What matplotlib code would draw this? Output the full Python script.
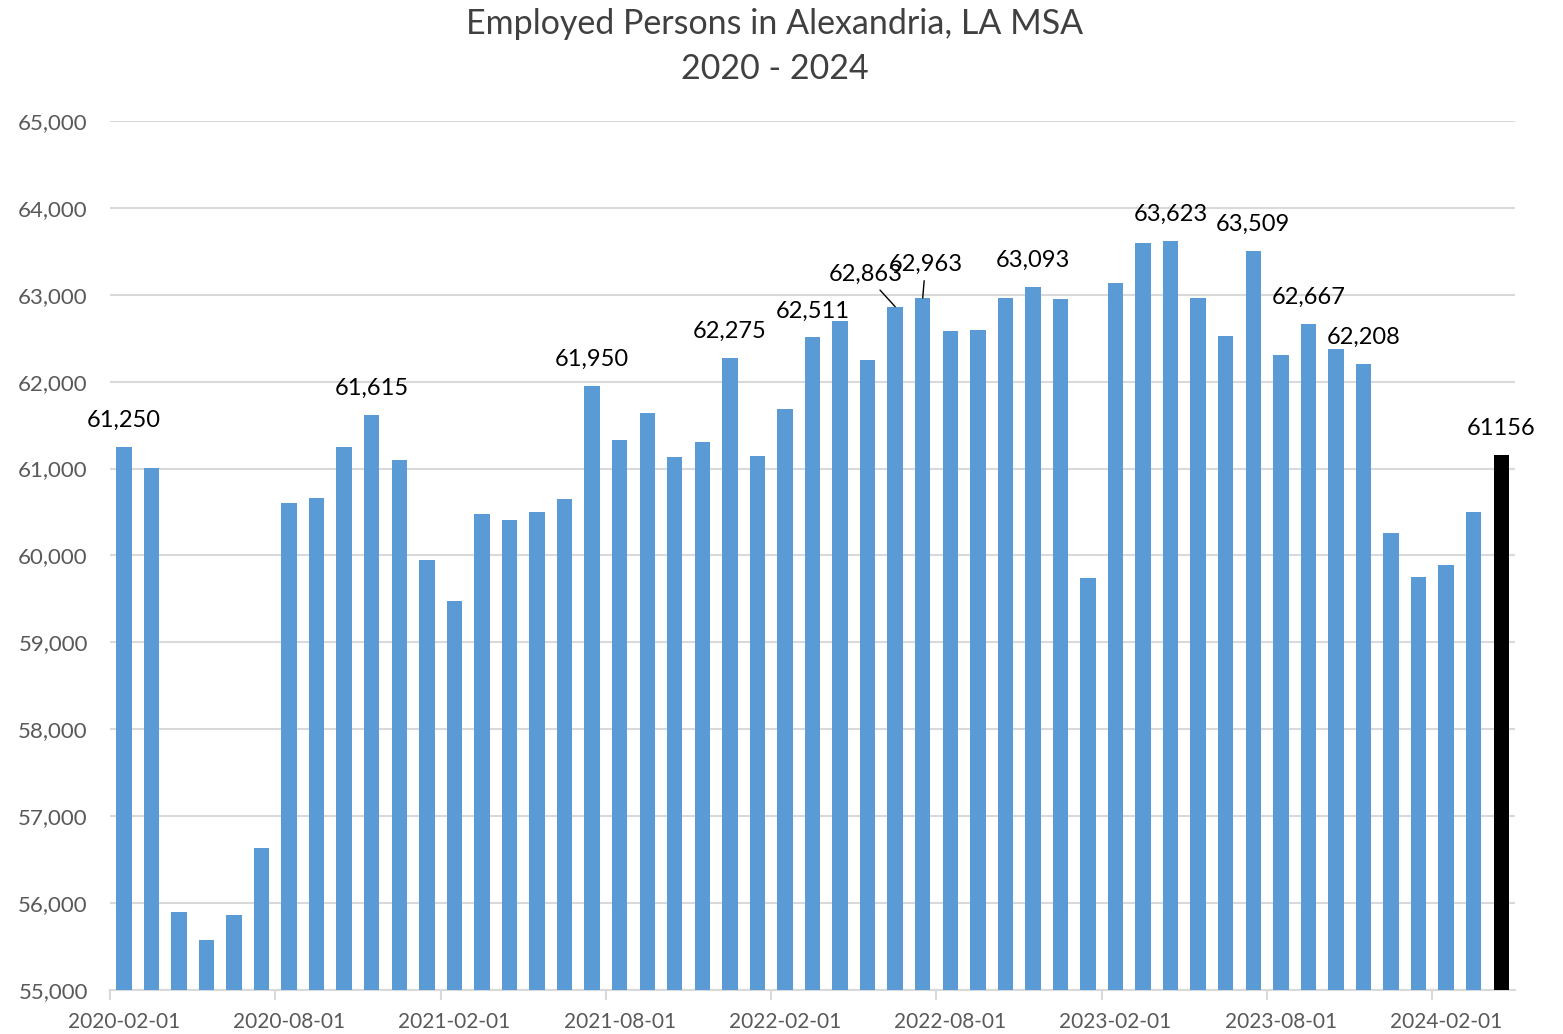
import numpy as np
import matplotlib
matplotlib.use("Agg")
from matplotlib import pyplot as plt
from matplotlib.ticker import FuncFormatter, FixedLocator

plt.rcParams['font.family'] = ['Lato', 'DejaVu Sans']

# monthly values, 2020-02 .. 2024-04
months = [f"{y}-{m:02d}-01" for y in range(2020, 2025) for m in range(1, 13)][1:52]
employed = [61250, 61010, 55900, 55580, 55860, 56630, 60600, 60660, 61250, 61615,
            61100, 59950, 59480, 60480, 60410, 60500, 60650, 61950, 61330, 61640,
            61130, 61300, 62275, 61150, 61690, 62511, 62700, 62250, 62863, 62963,
            62580, 62590, 62963, 63093, 62950, 59740, 63140, 63600, 63623, 62963,
            62530, 63509, 62310, 62667, 62380, 62208, 60260, 59750, 59890, 60500,
            61156]
labeled = {0: "61,250", 9: "61,615", 17: "61,950", 22: "62,275", 25: "62,511",
           33: "63,093", 38: "63,623", 41: "63,509", 43: "62,667", 45: "62,208",
           50: "61156"}
# labels moved off their bars, drawn with a leader line (dx, dy in points)
moved = {28: ("62,863", -21, 23), 29: ("62,963", 2, 24)}

blue = "#5B9BD5"
grey_txt = "#595959"
grid_c = "#D9D9D9"

fig = plt.figure(figsize=(15.63, 10.34), dpi=100)
ax = fig.add_axes([0.0704, 0.0426, 0.8989, 0.8404])

x = np.arange(len(employed))
colors = [blue] * (len(employed) - 1) + ["black"]
ax.bar(x, employed, width=0.56, color=colors, zorder=3)

ax.set_ylim(55000, 65000)
ax.set_xlim(-0.5, len(employed) - 0.5)
ax.set_yticks(np.arange(55000, 65001, 1000))
ax.yaxis.set_major_formatter(FuncFormatter(lambda v, p: f"{int(v):,}"))
ax.grid(axis="y", color=grid_c, linewidth=1.5, zorder=0)

ax.set_xticks(x[::6])
ax.set_xticklabels([months[i] for i in x[::6]])
ax.xaxis.set_minor_locator(FixedLocator(x[::6] - 0.5))
ax.tick_params(axis="x", which="major", length=0, pad=16, labelsize=15, labelcolor=grey_txt)
ax.tick_params(axis="x", which="minor", length=7, width=1.5, color=grid_c)
ax.tick_params(axis="y", length=0, pad=16, labelsize=16, labelcolor=grey_txt)

for s in ["top", "right", "left"]:
    ax.spines[s].set_visible(False)
ax.spines["bottom"].set_color(grid_c)
ax.spines["bottom"].set_linewidth(1.5)

for i, txt in labeled.items():
    ax.annotate(txt, (x[i], employed[i]), xytext=(0, 19), textcoords="offset points",
                ha="center", va="center", fontsize=17, color="black")

for i, (txt, dx, dy) in moved.items():
    ax.annotate(txt, (x[i], employed[i]), xytext=(dx, dy), textcoords="offset points",
                ha="center", va="center", fontsize=17, color="black",
                arrowprops=dict(arrowstyle="-", color="black", lw=1, shrinkA=2, shrinkB=0))

fig.text(0.4955, 0.992, "Employed Persons in Alexandria, LA MSA\n2020 - 2024", ha="center",
         va="top", fontsize=24.5, color="#404040", linespacing=1.5)

fig.savefig("out.png", dpi=100)
